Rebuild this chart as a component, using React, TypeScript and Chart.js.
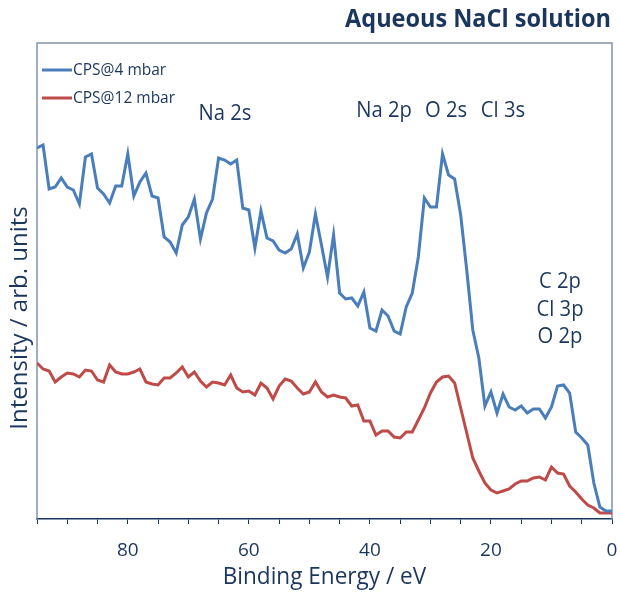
import React, { useEffect, useRef } from "react";
import { Chart, registerables } from "chart.js";

Chart.register(...registerables);

// Binding energy (eV), left to right on the reversed axis
const energies = [
  95, 94, 93, 92, 91, 90, 89, 88, 87, 86, 85, 84, 83, 82, 81, 80, 79, 78, 77, 76,
  75, 74, 73, 72, 71, 70, 69, 68, 67, 66, 65, 64, 63, 62, 61, 60, 59, 58, 57, 56,
  55, 54, 53, 52, 51, 50, 49, 48, 47, 46, 45, 44, 43, 42, 41, 40, 39, 38, 37, 36,
  35, 34, 33, 32, 31, 30, 29, 28, 27, 26, 25, 24, 23, 22, 21, 20, 19, 18, 17, 16,
  15, 14, 13, 12, 11, 10, 9, 8, 7, 6, 5, 4, 3, 2, 1, 0,
];

// CPS@4 mbar (arb. units)
const cps4 = [
  371, 374, 330, 332, 341, 332, 329, 315, 362, 365, 331, 325, 316, 333, 333, 365, 323, 337, 346, 323,
  321, 282, 277, 266, 294, 302, 320, 280, 306, 320, 361, 359, 355, 359, 311, 309, 271, 308, 281, 278,
  269, 266, 270, 285, 251, 267, 305, 274, 242, 284, 226, 220, 221, 213, 227, 191, 188, 209, 203, 188,
  185, 212, 226, 262, 321, 312, 312, 365, 344, 340, 304, 249, 189, 161, 113, 127, 106, 125, 112, 109,
  113, 106, 110, 110, 101, 112, 133, 134, 126, 87, 81, 74, 36, 12, 8, 8,
];

// CPS@12 mbar (arb. units)
const cps12 = [
  156, 150, 148, 137, 142, 146, 145, 142, 149, 148, 139, 137, 154, 147, 145, 145, 147, 150, 137, 135,
  134, 141, 141, 146, 152, 142, 147, 138, 132, 137, 136, 134, 144, 131, 127, 128, 124, 136, 131, 120,
  133, 140, 138, 131, 125, 127, 137, 127, 122, 124, 122, 121, 113, 114, 98, 98, 84, 88, 88, 82,
  81, 87, 87, 99, 111, 126, 137, 142, 143, 136, 111, 86, 61, 48, 36, 29, 26, 28, 30, 35,
  38, 38, 41, 42, 39, 52, 46, 45, 33, 27, 20, 14, 11, 6, 6, 6,
];

const seriesNames = ["CPS@4 mbar", "CPS@12 mbar"];
const seriesColors = ["#4a7ebb", "#be4b48"];
const majorTicks = [80, 60, 40, 20, 0];

const chartTitle = "Aqueous NaCl solution";
const xTitle = "Binding Energy / eV";
const yTitle = "Intensity / arb. units";
const peakLabelsTop = [
  { text: "Na 2s", x: 225, y: 114 },
  { text: "Na 2p", x: 384, y: 111 },
  { text: "O 2s", x: 446, y: 111 },
  { text: "Cl 3s", x: 503, y: 111 },
];
const peakLabelsRight = ["C 2p", "Cl 3p", "O 2p"];

const NAVY = "#1b365d";
const FONT = "'Open Sans', 'Noto Sans', sans-serif";
const SX = 0.94;

function drawText(ctx: CanvasRenderingContext2D, text: string, x: number, y: number, align: CanvasTextAlign) {
  ctx.save();
  ctx.translate(x, y);
  ctx.scale(SX, 1);
  ctx.textAlign = align;
  ctx.fillText(text, 0, 0);
  ctx.restore();
}

const decorPlugin = {
  id: "decor",
  beforeDatasetsDraw(chart: any) {
    const ctx = chart.ctx;
    const { left, right, top, bottom } = chart.chartArea;
    ctx.save();
    ctx.strokeStyle = "#8294ab";
    ctx.lineWidth = 1.5;
    ctx.beginPath();
    ctx.moveTo(left, bottom);
    ctx.lineTo(left, top);
    ctx.lineTo(right, top);
    ctx.lineTo(right, bottom);
    ctx.stroke();
    ctx.restore();
  },
  afterDraw(chart: any) {
    const ctx = chart.ctx;
    const { left, right } = chart.chartArea;
    ctx.save();
    ctx.fillStyle = NAVY;
    ctx.textBaseline = "middle";

    // title
    ctx.font = `bold 25px ${FONT}`;
    drawText(ctx, chartTitle, 611, 20, "right");

    // legend
    ctx.font = `16.5px ${FONT}`;
    seriesNames.forEach((name, i) => {
      const y = 70 + i * 28;
      ctx.strokeStyle = seriesColors[i];
      ctx.lineWidth = 3;
      ctx.beginPath();
      ctx.moveTo(left + 5, y);
      ctx.lineTo(left + 35, y);
      ctx.stroke();
      drawText(ctx, name, left + 36, y, "left");
    });

    // peak labels
    ctx.font = `21.5px ${FONT}`;
    peakLabelsTop.forEach((p) => drawText(ctx, p.text, p.x, p.y, "center"));
    peakLabelsRight.forEach((t, i) => drawText(ctx, t, 560, 282 + i * 27.5, "center"));

    // axis titles
    ctx.font = `24px ${FONT}`;
    drawText(ctx, xTitle, (left + right) / 2, 577, "center");
    ctx.translate(20, 318);
    ctx.rotate(-Math.PI / 2);
    ctx.textAlign = "center";
    ctx.fillText(yTitle, 0, 0);
    ctx.restore();
  },
};

export default function App() {
  const canvasRef = useRef<HTMLCanvasElement | null>(null);

  useEffect(() => {
    document.body.style.margin = "0";
    const canvas = canvasRef.current;
    if (!canvas) return;
    const chart = new Chart(canvas, {
      type: "line",
      data: {
        datasets: [
          {
            label: seriesNames[0],
            data: energies.map((e, i) => ({ x: e, y: cps4[i] })),
            borderColor: seriesColors[0],
            backgroundColor: seriesColors[0],
            borderWidth: 3,
            pointRadius: 0,
            tension: 0,
          },
          {
            label: seriesNames[1],
            data: energies.map((e, i) => ({ x: e, y: cps12[i] })),
            borderColor: seriesColors[1],
            backgroundColor: seriesColors[1],
            borderWidth: 3,
            pointRadius: 0,
            tension: 0,
          },
        ],
      },
      options: {
        animation: false,
        responsive: false,
        maintainAspectRatio: false,
        layout: { padding: { left: 37, right: 8, top: 43, bottom: 0 } },
        plugins: {
          legend: { display: false },
          tooltip: { enabled: false },
          title: { display: false },
        },
        scales: {
          x: {
            type: "linear",
            reverse: true,
            min: 0,
            max: 95,
            afterFit: (scale: any) => {
              scale.height = 73;
              scale.paddingLeft = 0;
              scale.paddingRight = 0;
            },
            ticks: {
              stepSize: 5,
              autoSkip: false,
              maxRotation: 0,
              padding: 15,
              color: NAVY,
              font: { family: FONT, size: 19 },
              callback: (v: any) => (majorTicks.includes(Number(v)) ? String(v) : ""),
            },
            grid: {
              drawOnChartArea: false,
              drawTicks: true,
              tickLength: 5,
              color: NAVY,
            },
            border: { display: true, color: NAVY, width: 1.5 },
          },
          y: {
            display: false,
            min: 0,
            max: 476,
          },
        },
      },
      plugins: [decorPlugin],
    });
    return () => chart.destroy();
  }, []);

  return (
    <div style={{ width: 620, height: 592, background: "#fff" }}>
      <canvas ref={canvasRef} width={620} height={592} style={{ display: "block" }} />
    </div>
  );
}
